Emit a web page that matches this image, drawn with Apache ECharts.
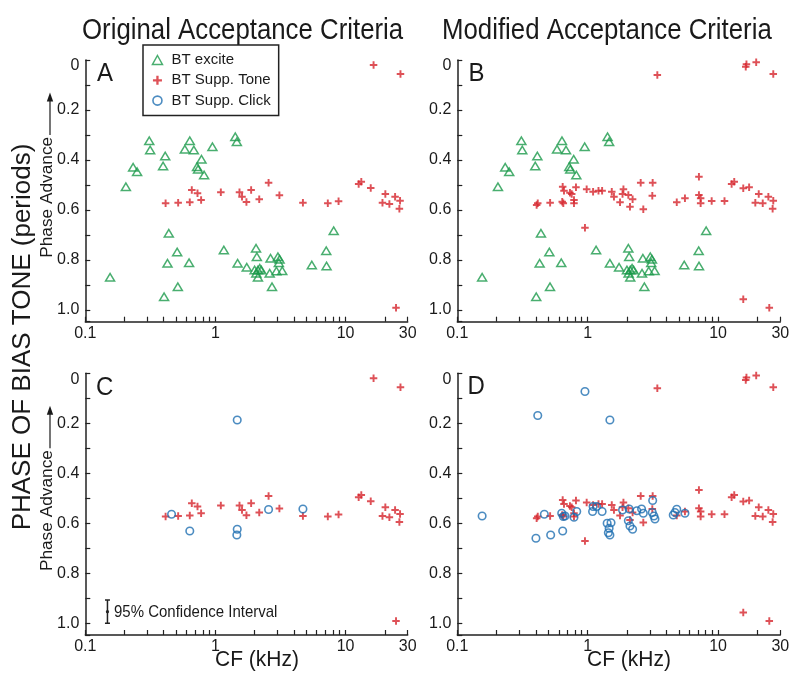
<!DOCTYPE html>
<html><head><meta charset="utf-8">
<script src="https://cdn.jsdelivr.net/npm/echarts@6/dist/echarts.min.js"></script>
<style>html,body{margin:0;padding:0;background:#fff}#chart{width:800px;height:689px}</style>
</head><body><div id="chart"></div>
<script>
// ---- text ----
const panelTitles = ['Original Acceptance Criteria', 'Modified Acceptance Criteria'];
const panelLetters = ['A', 'B', 'C', 'D'];
const seriesNames = ['BT excite', 'BT Supp. Tone', 'BT Supp. Click'];
const yAxisTitle = 'PHASE OF BIAS TONE (periods)';
const yAxisSubTitle = 'Phase Advance';
const xAxisTitle = 'CF (kHz)';
const ciLabel = '95% Confidence Interval';

// ---- ticks ----
const xTickValues = [0.1,0.2,0.3,0.4,0.5,0.6,0.7,0.8,0.9,1,2,3,4,5,6,7,8,9,10,20,30];
const xLabelValues = [0.1, 1, 10, 30];
const yMin = 0, yMax = 1.047, yStep = 0.1;

// ---- data: [CF kHz, phase periods] ----
const btExcite = [
  [0.31,0.323],[0.315,0.36],[0.635,0.323],[0.582,0.357],[0.682,0.36],[0.411,0.384],[0.396,0.424],
  [0.781,0.397],[0.722,0.427],[0.735,0.437],[0.818,0.46],[0.948,0.347],[0.233,0.429],[0.25,0.447],
  [0.205,0.507],[1.42,0.307],[1.46,0.327],
  [0.438,0.693],[0.508,0.768],[0.428,0.813],[0.627,0.811],[0.155,0.869],[0.514,0.907],[0.403,0.947],
  [1.16,0.76],[1.48,0.813],[1.74,0.829],[2.05,0.753],[2.08,0.787],[2.0,0.84],[2.12,0.84],[2.19,0.833],
  [2.25,0.84],[2.06,0.853],[2.12,0.869],[2.61,0.853],[2.65,0.793],[2.72,0.907],[3.02,0.787],[3.11,0.797],
  [3.07,0.811],[2.94,0.844],[3.26,0.843],[5.5,0.82],[7.1,0.763],[7.14,0.824],[8.1,0.683]
];
const btToneOriginal = [
  [0.414,0.573],[0.517,0.571],[0.635,0.569],[0.658,0.52],[0.728,0.533],[0.776,0.56],[1.10,0.529],
  [1.53,0.529],[1.60,0.547],[1.73,0.568],[1.88,0.52],[2.17,0.557],[2.56,0.491],[3.10,0.541],[4.70,0.571],
  [7.30,0.573],[8.83,0.565],[12.6,0.496],[13.2,0.487],[15.6,0.512],[20.2,0.536],[19.2,0.571],[21.7,0.576],
  [24.0,0.547],[26.2,0.563],[25.9,0.595],[16.4,0.02],[26.4,0.056],[24.4,0.991]
];
const btToneModified = [
  [0.406,0.58],[0.414,0.573],[0.515,0.571],[0.643,0.507],[0.658,0.523],[0.638,0.567],[0.65,0.573],
  [0.731,0.531],[0.754,0.536],[0.813,0.509],[0.785,0.56],[0.785,0.573],[0.982,0.517],[1.10,0.527],
  [1.21,0.523],[1.29,0.523],[0.953,0.671],[1.53,0.527],[1.59,0.547],[1.77,0.569],[1.85,0.536],[1.88,0.517],
  [2.05,0.54],[2.11,0.587],[2.21,0.557],[2.55,0.491],[2.67,0.597],[3.15,0.491],[3.13,0.543],[3.42,0.06],
  [4.82,0.569],[5.57,0.553],[7.13,0.467],[7.13,0.54],[7.35,0.553],[7.35,0.573],[8.93,0.564],[11.2,0.564],
  [12.7,0.496],[13.3,0.487],[15.6,0.513],[17.3,0.509],[20.5,0.536],[19.3,0.571],[22.0,0.573],[24.3,0.547],
  [26.5,0.563],[26.2,0.595],[16.3,0.027],[16.5,0.017],[19.6,0.009],[26.5,0.056],[15.6,0.957],[24.7,0.991]
];
const btClickOriginal = [
  [0.46,0.564],[0.635,0.631],[1.47,0.187],[1.47,0.624],[1.46,0.647],[2.56,0.545],[4.70,0.543]
];
const btClickModified = [
  [0.155,0.571],[0.953,0.073],[0.414,0.169],[1.48,0.187],[0.401,0.66],[0.465,0.564],[0.52,0.647],
  [0.643,0.631],[0.632,0.56],[0.65,0.573],[0.67,0.571],[0.785,0.576],[0.824,0.553],[1.10,0.533],
  [1.09,0.553],[1.17,0.533],[1.29,0.553],[1.41,0.6],[1.51,0.598],[1.46,0.62],[1.44,0.638],[1.48,0.647],
  [1.85,0.547],[2.05,0.59],[2.11,0.611],[2.21,0.624],[2.08,0.543],[2.38,0.55],[2.59,0.543],[2.67,0.56],
  [3.15,0.509],[3.13,0.557],[3.22,0.571],[3.28,0.583],[4.53,0.567],[4.82,0.544],[4.67,0.557],[5.57,0.56]
];
// 95% confidence interval marker: [CF, low, high]
const ciBar = [[0.148, 0.907, 1.0]];

// ---- styling ----
const FONT = "'Liberation Sans', Arial, Helvetica, sans-serif";
const INK = '#1a1a1a';
const GREEN = '#1b9a4b', RED = '#d6262d', BLUE = '#1f6fb2';
const CROSS = 'path://M2.6,0H4.4V7H2.6ZM0,2.6H7V4.4H0Z';

const grids = [
  {left: 85.3, top: 60, width: 322.4, height: 261.7},
  {left: 457.3, top: 60, width: 323, height: 261.7},
  {left: 85.3, top: 373.3, width: 322.4, height: 261.7},
  {left: 457.3, top: 373.3, width: 323, height: 261.7}
];

const xAxes = grids.map((g, i) => ({
  type: 'log', logBase: 10, gridIndex: i, min: 0.1, max: 30,
  axisLine: {onZero: false, lineStyle: {color: '#222', width: 1.5}},
  axisTick: {inside: true, length: 5, customValues: xTickValues, lineStyle: {color: '#222', width: 1.2}},
  axisLabel: {customValues: xLabelValues, fontSize: 16, color: INK, fontFamily: FONT, margin: 4,
    formatter: v => v < 1 ? String(Math.round(v * 10) / 10) : String(Math.round(v))},
  splitLine: {show: false}, minorTick: {show: false}
}));
const yAxes = grids.map((g, i) => ({
  type: 'value', gridIndex: i, min: yMin, max: yMax, interval: yStep, inverse: true,
  axisLine: {show: true, onZero: false, lineStyle: {color: '#222', width: 1.5}},
  axisTick: {show: true, inside: true, length: 5, lineStyle: {color: '#222', width: 1.2}},
  axisLabel: {fontSize: 16, color: INK, fontFamily: FONT, margin: 6,
    formatter: v => {
      const t = v * 10, r = Math.round(t);
      if (Math.abs(t - r) > 1e-6 || r % 2 !== 0) return '';
      return r === 0 ? '{z|0}' : (r / 10).toFixed(1);
    },
    rich: {z: {fontSize: 16, color: INK, fontFamily: FONT, padding: [12, 0, 0, 0]}}},
  splitLine: {show: false}
}));

function sc(name, idx, data, kind) {
  const s = {type: 'scatter', name, xAxisIndex: idx, yAxisIndex: idx, data, z: 3};
  if (kind === 'tri') Object.assign(s, {symbol: 'triangle', symbolSize: [9, 7.5],
    itemStyle: {color: 'rgba(255,255,255,0)', borderColor: GREEN, borderWidth: 1.5}});
  if (kind === 'cross') Object.assign(s, {symbol: CROSS, symbolSize: 7.5, itemStyle: {color: RED}});
  if (kind === 'circ') Object.assign(s, {symbol: 'circle', symbolSize: 7.5,
    itemStyle: {color: 'rgba(255,255,255,0)', borderColor: BLUE, borderWidth: 1.6}});
  return s;
}

const series = [
  sc(seriesNames[0], 0, btExcite, 'tri'),
  sc(seriesNames[1], 0, btToneOriginal, 'cross'),
  sc(seriesNames[0], 1, btExcite, 'tri'),
  sc(seriesNames[1], 1, btToneModified, 'cross'),
  sc(seriesNames[1], 2, btToneOriginal, 'cross'),
  sc(seriesNames[2], 2, btClickOriginal, 'circ'),
  sc(seriesNames[1], 3, btToneModified, 'cross'),
  sc(seriesNames[2], 3, btClickModified, 'circ'),
  {
    type: 'custom', name: 'ci', xAxisIndex: 2, yAxisIndex: 2, data: ciBar, clip: false, silent: true,
    encode: {x: 0, y: [1, 2]},
    renderItem: (params, api) => {
      const x = api.value(0), lo = api.value(1), hi = api.value(2);
      const a = api.coord([x, lo]), b = api.coord([x, hi]), m = api.coord([x, (lo + hi) / 2]);
      const st = {stroke: '#222', lineWidth: 1.5};
      return {type: 'group', children: [
        {type: 'line', shape: {x1: a[0], y1: a[1], x2: b[0], y2: b[1]}, style: st},
        {type: 'line', shape: {x1: a[0] - 2.5, y1: a[1], x2: a[0] + 2.5, y2: a[1]}, style: st},
        {type: 'line', shape: {x1: b[0] - 2.5, y1: b[1], x2: b[0] + 2.5, y2: b[1]}, style: st},
        {type: 'circle', shape: {cx: m[0], cy: m[1], r: 1.6}, style: {fill: '#222'}}
      ]};
    }
  }
];

function txt(text, x, y, size, opts) {
  opts = opts || {};
  return {
    type: 'text', x, y, rotation: opts.rot || 0, scaleX: opts.sx || 1, scaleY: opts.sy || 1,
    silent: true,
    style: {text, fontSize: size, fontFamily: FONT, fill: INK,
      align: opts.align || 'left', textAlign: opts.align || 'left',
      verticalAlign: 'middle', textVerticalAlign: 'middle'}
  };
}
const graphics = [
  txt(panelTitles[0], 82, 31, 25.8, {sy: 1.12}),
  txt(panelTitles[1], 442, 31, 25.8, {sy: 1.12}),
  txt(panelLetters[0], 97, 74.5, 24, {sy: 1.05}),
  txt(panelLetters[1], 468.5, 74.5, 24, {sy: 1.05}),
  txt(panelLetters[2], 96, 388.5, 24, {sy: 1.05}),
  txt(panelLetters[3], 467.5, 387.5, 24, {sy: 1.05}),
  txt(yAxisTitle, 23, 337, 26, {rot: Math.PI / 2, align: 'center'}),
  txt(yAxisSubTitle, 47.8, 197.3, 16, {rot: Math.PI / 2, align: 'center', sx: 1.08}),
  txt(yAxisSubTitle, 47.8, 510.6, 16, {rot: Math.PI / 2, align: 'center', sx: 1.08}),
  txt(xAxisTitle, 215, 660, 21, {sy: 1.06}),
  txt(xAxisTitle, 587, 660, 21, {sy: 1.06}),
  txt(ciLabel, 114, 612.3, 15, {sy: 1.08})
];
[0, 313.3].forEach(dy => {
  graphics.push({type: 'line', silent: true, shape: {x1: 50, y1: 135 + dy, x2: 50, y2: 99 + dy},
    style: {stroke: INK, lineWidth: 1.2}});
  graphics.push({type: 'polygon', silent: true,
    shape: {points: [[50, 92.5 + dy], [46.8, 101.5 + dy], [53.2, 101.5 + dy]]}, style: {fill: INK}});
});

const chart = echarts.init(document.getElementById('chart'), null, {renderer: 'canvas'});
chart.setOption({
  animation: false,
  backgroundColor: '#fff',
  grid: grids.map(g => Object.assign({outerBoundsMode: 'none', containLabel: false}, g)),
  xAxis: xAxes,
  yAxis: yAxes,
  legend: {
    left: 143, top: 45, orient: 'vertical', padding: [7, 8, 7, 8.7],
    itemWidth: 10, itemHeight: 9, itemGap: 4.3,
    borderColor: '#222', borderWidth: 1.5, backgroundColor: '#fff', selectedMode: false,
    textStyle: {fontSize: 15, lineHeight: 16, color: INK, fontFamily: FONT, padding: [0, 0, 0, 4]},
    data: [
      {name: seriesNames[0], icon: 'triangle', itemStyle: {color: 'rgba(255,255,255,0)', borderColor: GREEN, borderWidth: 1.5}},
      {name: seriesNames[1], icon: CROSS, itemStyle: {color: RED, borderWidth: 0}},
      {name: seriesNames[2], icon: 'circle', itemStyle: {color: 'rgba(255,255,255,0)', borderColor: BLUE, borderWidth: 1.6}}
    ]
  },
  graphic: graphics,
  series
});
</script></body></html>
